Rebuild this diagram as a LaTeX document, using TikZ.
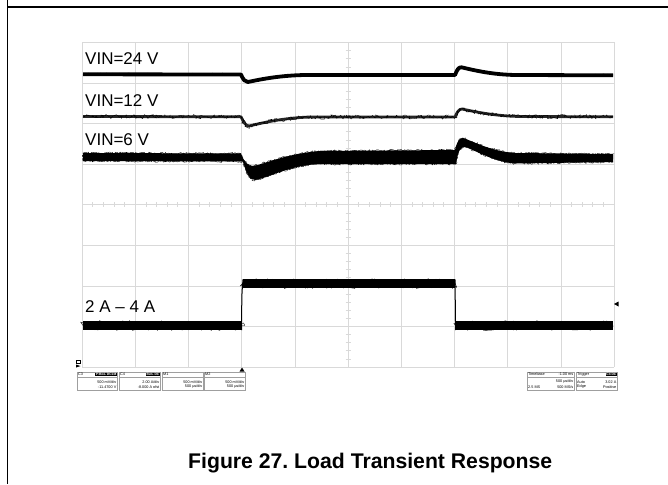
\documentclass[tikz,border=0pt]{standalone}
\usepackage{fontspec}
\setmainfont{Liberation Sans}
\usetikzlibrary{decorations.pathmorphing}
\frenchspacing
\tikzset{
  gridline/.style={gray!30, line width=0.6pt},
  trace/.style={draw=black, line width=#1, line join=round},
  trace/.default=3pt,
  noise/.style={postaction={draw=black, line width=0.35pt, decorate,
    decoration={random steps, segment length=1.1pt, amplitude=#1}}},
  statbox/.style={draw=gray!75, line width=0.5pt, inner sep=0pt, anchor=north west, minimum height=18pt},
  badge/.style={fill=black, text=white, inner sep=0.5pt, font=\fontsize{3.3}{3.6}\selectfont\bfseries},
  boxtext/.style={inner sep=0pt, font=\fontsize{3.8}{4.2}\selectfont},
  vlabel/.style={anchor=base west, inner sep=0pt, font=\fontsize{17}{20}\selectfont}
}
\begin{document}
\begin{tikzpicture}[x=1pt, y=-1pt]
\pgfmathsetseed{7}
\useasboundingbox (0,0) rectangle (668,484);
\draw[line width=1.3pt] (7.5,0) -- (7.5,484);
\draw[line width=1.3pt] (7.5,7) -- (668,7);
% scope grid
\foreach \i in {0,...,10} \draw[gridline] ({82+53.2*\i},42.5) -- ({82+53.2*\i},367);
\foreach \j in {0,...,8} \draw[gridline] (82,{42.5+40.5625*\j}) -- (614,{42.5+40.5625*\j});
\foreach \k in {1,...,39} \draw[gridline] (345.5,{42.5+8.1125*\k}) -- (350.5,{42.5+8.1125*\k});
\foreach \k in {1,...,49} \draw[gridline] ({82+10.64*\k},202.3) -- ({82+10.64*\k},207.3);
% output voltage traces
\draw[trace=3.8pt, noise=1.4pt] (83,74.3) -- (241,74.5) .. controls (243.5,80) and (245,82) .. (248,82)
  .. controls (262,79) and (280,75.5) .. (305,75) -- (455,75) .. controls (457,70) and (458.5,67) .. (461.5,67.3)
  .. controls (475,70.5) and (492,74.5) .. (515,75) -- (613,75.3);
\draw[trace=2.8pt, draw=black!85, noise=2.2pt] (83,116.5) -- (241,116.8) .. controls (243.5,122) and (245.5,126) .. (249,126)
  .. controls (262,123) and (282,118) .. (310,117) -- (455,117) .. controls (457,112) and (459,109) .. (462,109)
  .. controls (476,112) and (495,116) .. (520,116.5) -- (613,116.8);
\fill[black, noise=1pt] (83,153) -- (241,153.5) .. controls (244,162) and (248,166) .. (253,166)
  .. controls (265,164) and (285,154) .. (320,151) -- (455,150) .. controls (457,142) and (459,138) .. (463,138)
  .. controls (475,142) and (490,151) .. (515,153) -- (613,154) -- (613,162) -- (515,163.5)
  .. controls (495,162) and (478,152) .. (466,147) .. controls (461,146) and (458,150) .. (456,164)
  -- (320,164) .. controls (290,165) and (268,178) .. (255,180) .. controls (249,180) and (246,172) .. (243,161.5)
  -- (83,161) -- cycle;
% load current trace
\draw[trace=8.5pt, line cap=butt, noise=5pt] (83,325.5) -- (241.5,325.5);
\draw[trace=8.5pt, line cap=butt, noise=5pt] (242.5,283.5) -- (455,283.5);
\draw[trace=8.5pt, line cap=butt, noise=5pt] (455.5,325.5) -- (613,325.5);
\draw[line width=1pt] (241.7,330) .. controls (241.7,295) .. (243,279.5);
\draw[line width=1pt] (455,279.5) -- (455.6,330);
% labels
\node[vlabel] (v24) at (85,65) {VIN=24 V};
\node[vlabel] (v12) at (85,106.7) {VIN=12 V};
\node[vlabel] (v6) at (85,145) {VIN=6 V};
\node[vlabel] (iload) at (85,312.7) {2 A – 4 A};
% markers
\fill (239.5,371.5) -- (244.5,371.5) -- (242,367.5) -- cycle;
\fill (614,304) -- (618.5,301.5) -- (618.5,306.5) -- cycle;
\fill (76,364.5) -- (80.5,366) -- (76,367.5) -- cycle;
\draw[line width=0.5pt] (76.5,360) rectangle (80,363);
% status boxes
\foreach \nm/\x/\w in {c3/77/40, c4/119/41, m1/162/41, m2/204/41, tb/527/47, trig/576/41} {
  \node[statbox, minimum width=\w pt] (\nm) at (\x,372) {};
  \draw[gray!75, line width=0.5pt] ([yshift=-5pt]\nm.north west) -- ([yshift=-5pt]\nm.north east);
}
\node[boxtext, anchor=west] (c3h) at ([xshift=1pt,yshift=-2.5pt]c3.north west) {C3};
\node[badge, anchor=east] (c3b) at ([xshift=-0.5pt,yshift=-2.5pt]c3.north east) {P:BwL DC1M};
\node[boxtext, anchor=east] (c3r) at ([xshift=-1pt,yshift=-10pt]c3.north east) {500 mV/div};
\node[boxtext, anchor=east] (c3o) at ([xshift=-1pt,yshift=-15pt]c3.north east) {-11.4700 V};
\node[boxtext, anchor=west] (c4h) at ([xshift=1pt,yshift=-2.5pt]c4.north west) {C4};
\node[badge, anchor=east] (c4b) at ([xshift=-0.5pt,yshift=-2.5pt]c4.north east) {BwL DC};
\node[boxtext, anchor=east] (c4r) at ([xshift=-1pt,yshift=-10pt]c4.north east) {2.00 A/div};
\node[boxtext, anchor=east] (c4o) at ([xshift=-1pt,yshift=-15pt]c4.north east) {-8.000 A ofst};
\node[boxtext, anchor=west] (m1h) at ([xshift=1pt,yshift=-2.5pt]m1.north west) {M1};
\node[boxtext, anchor=east] (m1r) at ([xshift=-1pt,yshift=-10pt]m1.north east) {500 mV/div};
\node[boxtext, anchor=east] (m1t) at ([xshift=-1pt,yshift=-15pt]m1.north east) {500 µs/div};
\node[boxtext, anchor=west] (m2h) at ([xshift=1pt,yshift=-2.5pt]m2.north west) {M2};
\node[boxtext, anchor=east] (m2r) at ([xshift=-1pt,yshift=-10pt]m2.north east) {500 mV/div};
\node[boxtext, anchor=east] (m2t) at ([xshift=-1pt,yshift=-15pt]m2.north east) {500 µs/div};
\node[boxtext, anchor=west] (tbh) at ([xshift=1pt,yshift=-2.5pt]tb.north west) {Timebase};
\node[boxtext, anchor=east] (tbd) at ([xshift=-1pt,yshift=-2.5pt]tb.north east) {-1.00 ms};
\node[boxtext, anchor=east] (tbr) at ([xshift=-1pt,yshift=-10pt]tb.north east) {500 µs/div};
\node[boxtext, anchor=west] (tbs) at ([xshift=1pt,yshift=-15pt]tb.north west) {2.5 MS};
\node[boxtext, anchor=east] (tbf) at ([xshift=-1pt,yshift=-15pt]tb.north east) {500 MS/s};
\node[boxtext, anchor=west] (trh) at ([xshift=1pt,yshift=-2.5pt]trig.north west) {Trigger};
\node[badge, anchor=east] (trb) at ([xshift=-0.5pt,yshift=-2.5pt]trig.north east) {C4 DC};
\node[boxtext, anchor=west] (tra) at ([xshift=1pt,yshift=-10pt]trig.north west) {Auto};
\node[boxtext, anchor=east] (trl) at ([xshift=-1pt,yshift=-10pt]trig.north east) {3.02 A};
\node[boxtext, anchor=west] (tre) at ([xshift=1pt,yshift=-15pt]trig.north west) {Edge};
\node[boxtext, anchor=east] (trp) at ([xshift=-1pt,yshift=-15pt]trig.north east) {Positive};
% caption
\node[anchor=base west, inner sep=0pt, font=\fontsize{21.2}{24}\selectfont\bfseries] (caption) at (188,468) {Figure 27. Load Transient Response};
\end{tikzpicture}
\end{document}
